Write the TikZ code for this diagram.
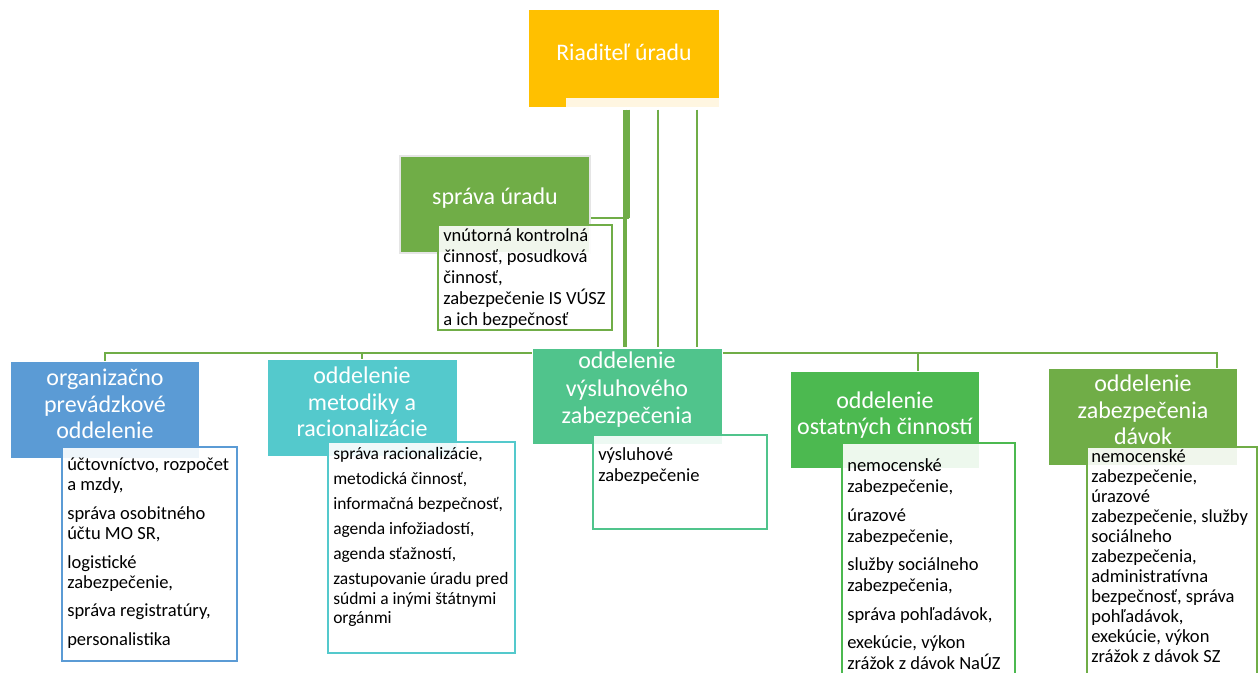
\documentclass[tikz,border=0pt]{standalone}
\usepackage{fontspec}
\setmainfont{Carlito}
\usetikzlibrary{calc}
\definecolor{gold}{HTML}{FFC000}
\definecolor{cream}{HTML}{FFF6E1}
\definecolor{grn}{HTML}{70AD47}
\definecolor{blu}{HTML}{5B9BD5}
\definecolor{teal}{HTML}{54C9CC}
\definecolor{vysc}{HTML}{50C48C}
\definecolor{ostc}{HTML}{4CB950}
\begin{document}
\begin{tikzpicture}[x=0.75pt,y=-0.75pt,
  hdr/.style={rectangle, inner sep=0pt, minimum width=142.5pt, minimum height=72.75pt, draw=white, line width=1.1pt},
  hdrtext/.style={text=white, align=center, font=\fontsize{18}{20}\selectfont, inner sep=0pt},
  sub/.style={rectangle, draw, line width=1.5pt, fill=white, fill opacity=0.9, text opacity=1, inner sep=0pt},
  subtext/.style={anchor=north west, align=left, inner sep=0pt, text=black, font=\fontsize{13.9}{15.5}\selectfont},
  conn/.style={draw=grn, line width=1.5pt},
]
\path[use as bounding box, clip] (0,0) rectangle (1258,673);
\fill[white] (0,0) rectangle (1258,673);

% header boxes (positions)
\node[hdr, fill=gold, draw=none] (dir) at (624,58.5) {};
\fill[cream] (566,98) rectangle (719,107);
\node[hdr, fill=grn, draw=black!10, line width=2pt] (spr) at (495,204.5) {};

% connectors from director
\coordinate (j1) at (629,218);
\draw[conn, line width=3pt] ($(dir.south)+(1,2)$) coordinate (d1) -- (d1 |- 0,348);
\draw[conn, line width=2.5pt] ($(dir.south)+(4.5,2)$) coordinate (d2) -- (d2 |- j1);
\draw[conn] ($(dir.south)+(33.5,2)$) coordinate (d3) -- (d3 |- 0,348);
\draw[conn] ($(dir.south)+(72.5,2)$) coordinate (d4) -- (d4 |- 0,348);
\draw[conn] (spr.east |- j1) -- (j1);

% bus
\coordinate (busL) at (105,353);
\coordinate (busR) at (1217,353);
\coordinate (ostD) at (918,353);
\coordinate (metD) at (362,353);
\draw[conn, line width=2pt] (105,362) -- (busL) -- (busR) -- (1217,369);
\draw[conn, line width=2pt] (metD) -- (362,360);
\draw[conn, line width=2pt] (ostD) -- (918,372);

\node[hdr, fill=blu] (org) at (105,410) {};
\node[hdr, fill=teal] (met) at (362.5,408) {};
\node[hdr, fill=vysc] (vys) at (627.5,396.5) {};
\node[hdr, fill=ostc] (ost) at (885,420) {};
\node[hdr, fill=grn] (dav) at (1143,417) {};

% header texts
\node[hdrtext, font=\fontsize{17.8}{20}\selectfont] (dirT) at (624,52) {Riaditeľ úradu};
\node[hdrtext] (sprT) at (495,198) {správa úradu};
\node[hdrtext] (orgT) at (105,404) {organizačno\\prevádzkové\\oddelenie};
\node[hdrtext] (metT) at (362,402) {oddelenie\\metodiky a\\racionalizácie};
\node[hdrtext, font=\fontsize{18}{20.6}\selectfont] (vysT) at (627,390) {oddelenie\\výsluhového\\zabezpečenia};
\node[hdrtext] (ostT) at (885,415) {oddelenie\\ostatných činností};
\node[hdrtext] (davT) at (1143,410) {oddelenie\\zabezpečenia\\dávok};

% sub boxes
\node[sub, draw=grn, minimum width=130.5pt, minimum height=78.75pt] (sprS) at (525,277.5) {};
\node[sub, draw=blu, minimum width=131.25pt, minimum height=160.5pt] (orgS) at (149.5,554) {};
\node[sub, draw=teal, minimum width=140.25pt, minimum height=158.25pt] (metS) at (421.5,547.5) {};
\node[sub, draw=vysc, minimum width=130.5pt, minimum height=70.5pt] (vysS) at (680,482) {};
\node[sub, draw=ostc, minimum width=129.75pt, minimum height=192.75pt] (ostS) at (928.5,571.5) {};
\node[sub, draw=grn, minimum width=127.5pt, minimum height=189.75pt] (davS) at (1172,573.5) {};

% sub texts
\node[subtext, font=\fontsize{13.9}{15.6}\selectfont] (sprL) at (443,227) {\rule{0pt}{11pt}vnútorná kontrolná\\činnosť, posudková\\činnosť,\\zabezpečenie IS VÚSZ\\a ich bezpečnosť};
\node[subtext, font=\fontsize{13.9}{15}\selectfont] (orgL) at (67,456) {\rule{0pt}{11pt}účtovníctvo, rozpočet\\a mzdy,\\[6.5pt]správa osobitného\\účtu MO SR,\\[6.5pt]logistické\\zabezpečenie,\\[6.5pt]správa registratúry,\\[6.5pt]personalistika};
\node[subtext, font=\fontsize{13.1}{14.6}\selectfont] (metL) at (333,445) {\rule{0pt}{11pt}správa racionalizácie,\\[4.1pt]metodická činnosť,\\[4.1pt]informačná bezpečnosť,\\[4.1pt]agenda infožiadostí,\\[4.1pt]agenda sťažností,\\[4.1pt]zastupovanie úradu pred\\súdmi a inými štátnymi\\orgánmi};
\node[subtext, font=\fontsize{13.9}{15.75}\selectfont] (vysL) at (598,446) {\rule{0pt}{11pt}výsluhové\\zabezpečenie};
\node[subtext, font=\fontsize{13.9}{15.75}\selectfont] (ostL) at (847,457) {\rule{0pt}{11pt}nemocenské\\zabezpečenie,\\[5.6pt]úrazové\\zabezpečenie,\\[5.6pt]služby sociálneho\\zabezpečenia,\\[5.6pt]správa pohľadávok,\\[5.6pt]exekúcie, výkon\\zrážok z dávok NaÚZ};
\node[subtext, font=\fontsize{13.9}{15}\selectfont] (davL) at (1091,448) {\rule{0pt}{11pt}nemocenské\\zabezpečenie,\\úrazové\\zabezpečenie, služby\\sociálneho\\zabezpečenia,\\administratívna\\bezpečnosť, správa\\pohľadávok,\\exekúcie, výkon\\zrážok z dávok SZ};
\end{tikzpicture}
\end{document}
